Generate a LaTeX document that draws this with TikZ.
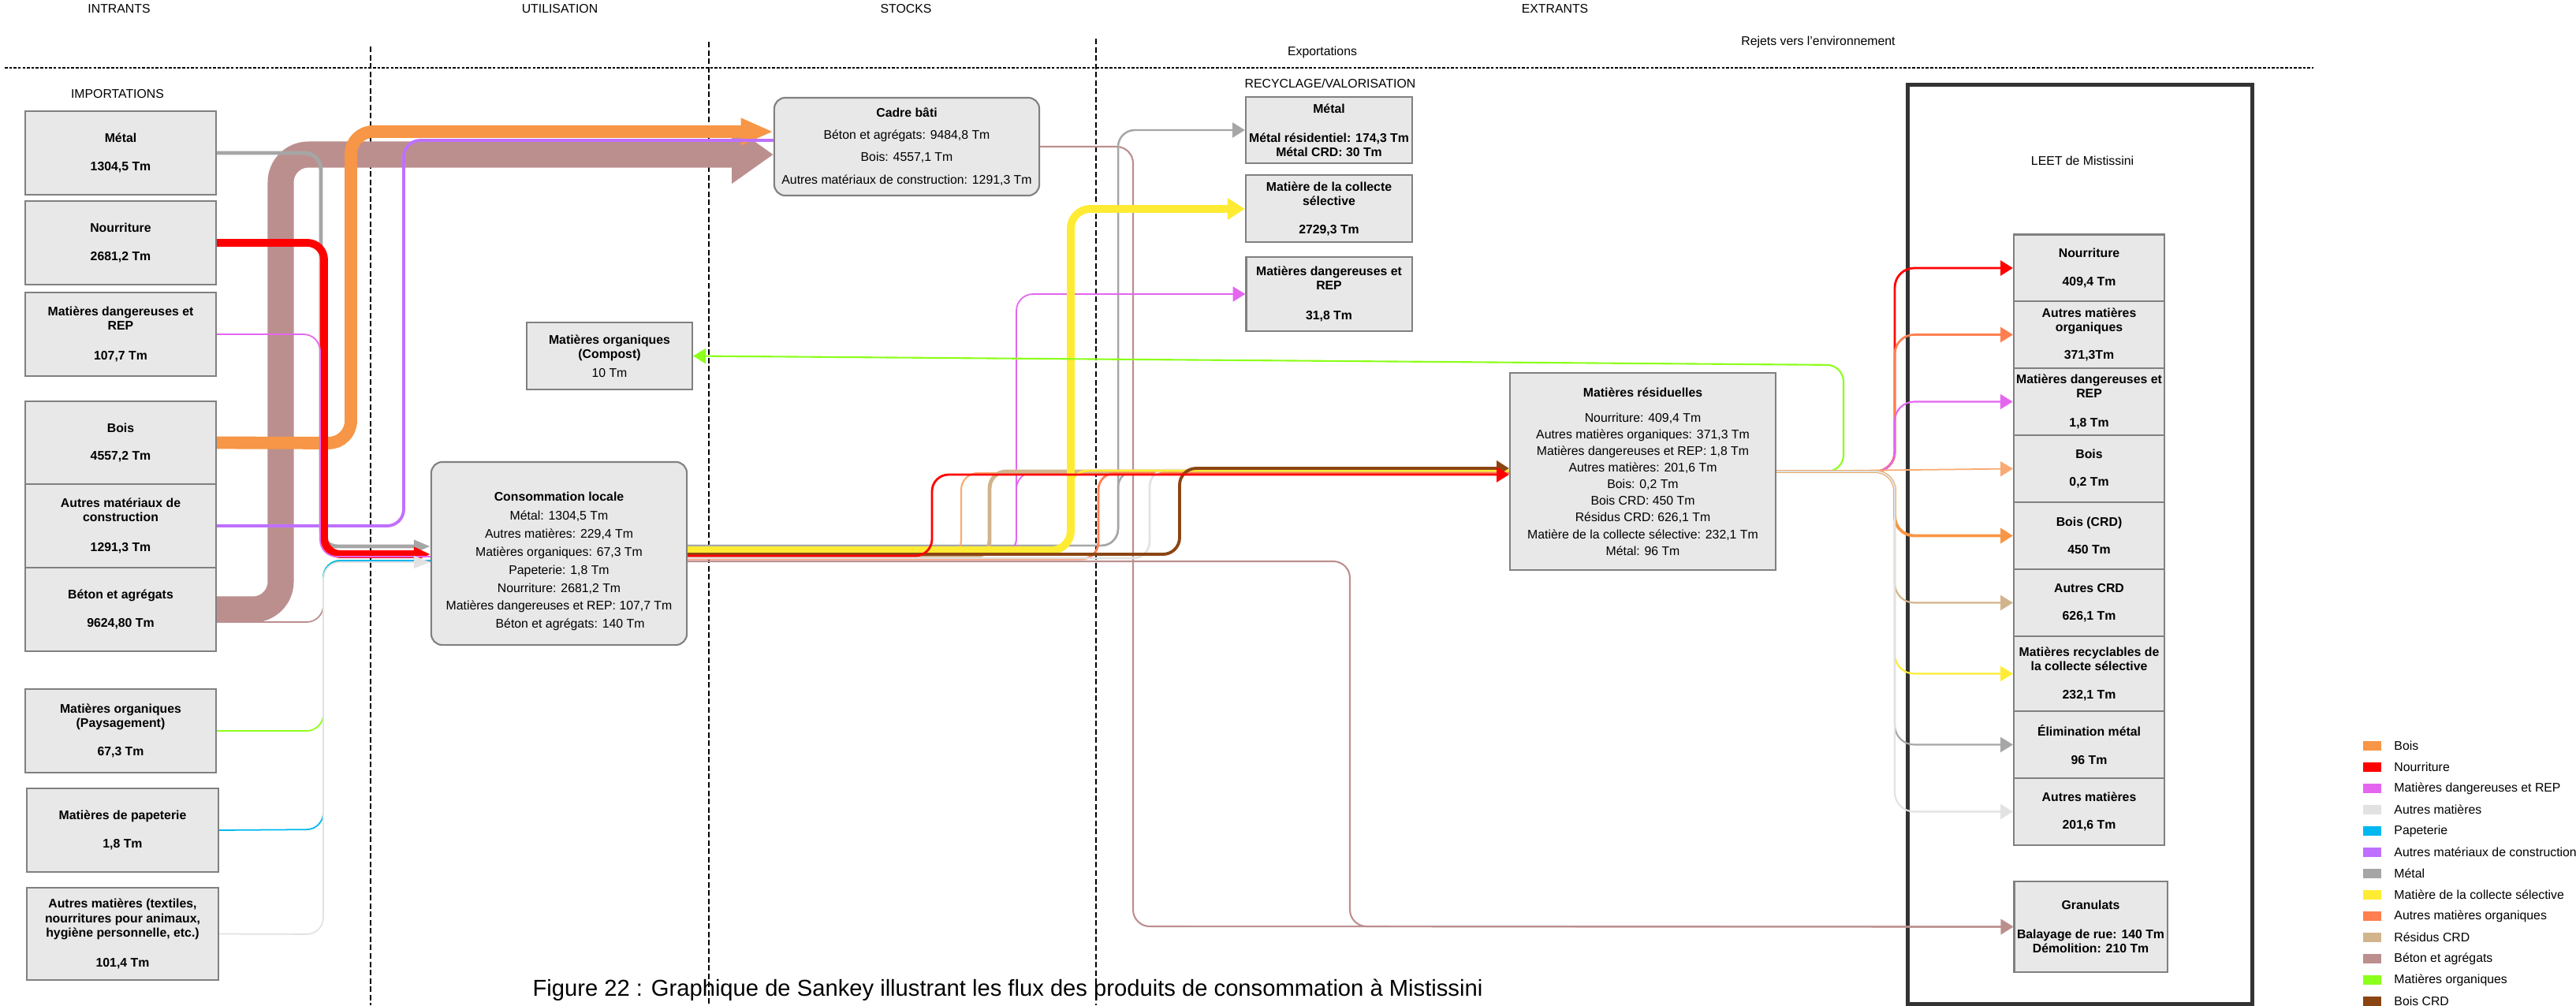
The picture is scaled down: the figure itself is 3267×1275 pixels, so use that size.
\documentclass[tikz,border=0pt]{standalone}
\usepackage{fontspec}
\setmainfont{Liberation Sans}
\usetikzlibrary{arrows.meta}

\definecolor{boxfill}{HTML}{E8E8E8}
\definecolor{boxline}{HTML}{808080}
\definecolor{leetline}{HTML}{333333}
\definecolor{cbois}{HTML}{F79646}
\definecolor{cboisl}{HTML}{F9AA72}
\definecolor{cnour}{HTML}{FF0000}
\definecolor{cmd}{HTML}{E466F0}
\definecolor{caut}{HTML}{E2E2E2}
\definecolor{cpap}{HTML}{00B8F0}
\definecolor{cconst}{HTML}{BF70FF}
\definecolor{cmet}{HTML}{A6A6A6}
\definecolor{ccol}{HTML}{FFEB33}
\definecolor{caom}{HTML}{FF7F50}
\definecolor{ccrd}{HTML}{D2B48C}
\definecolor{cbet}{HTML}{BC8F8F}
\definecolor{corg}{HTML}{8CFF1A}
\definecolor{cboiscrd}{HTML}{8B4513}

\newcommand{\smallfs}{\fontsize{4.5pt}{5.2pt}\selectfont}

\begin{document}
\begin{tikzpicture}[x = 0.01cm, y = -0.01cm, font = \smallfs,
  ibox/.style = {draw = boxline, fill = boxfill, line width = 0.6pt, align = center, inner sep = 1pt, font = \smallfs\bfseries},
  tbox/.style = {draw = boxline, fill = boxfill, line width = 0.6pt, align = center, inner sep = 1pt},
  rbox/.style = {tbox, rounded corners = 4pt},
  flow/.style = {line width = 0.6pt, rounded corners = 6pt},
  arrowed/.style = {-{Triangle[length = 4.5pt, width = 5.4pt]}}]
\useasboundingbox (0, 0) rectangle (3267, 1275);

\node (intrants) at (151, 11) {INTRANTS};
\node (utilisation) at (710, 11) {UTILISATION};
\node (stocks) at (1149, 11) {STOCKS};
\node (extrants) at (1972, 11) {EXTRANTS};
\node (exportations) at (1677, 66) {Exportations};
\node (rejets) at (2306, 53) {Rejets vers l'environnement};
\node (importations) at (149, 119) {IMPORTATIONS};
\node (recyclage) at (1687, 106) {RECYCLAGE/VALORISATION};

\draw[dash pattern = on 1pt off 0.6pt, line width = 0.5pt] (6, 86) -- (2934, 86);
\draw[dash pattern = on 2pt off 1pt, line width = 0.3pt] (470, 59) -- (470, 1275);
\draw[dash pattern = on 2pt off 1pt, line width = 0.3pt] (899, 53) -- (899, 1275);
\draw[dash pattern = on 2pt off 1pt, line width = 0.3pt] (1390, 49) -- (1390, 1275);

\node[ibox, minimum width = 2.42cm, minimum height = 1.06cm] (metal) at (153, 194) {Métal\\[4.9pt]1304,5 Tm};
\node[ibox, minimum width = 2.42cm, minimum height = 1.06cm] (nour) at (153, 308) {Nourriture\\[4.9pt]2681,2 Tm};
\node[ibox, minimum width = 2.42cm, minimum height = 1.06cm] (mdin) at (153, 424) {Matières dangereuses et\\REP\\[5.6pt]107,7 Tm};
\node[ibox, minimum width = 2.42cm, minimum height = 1.05cm] (bois) at (153, 561.5) {Bois\\[4.9pt]4557,2 Tm};
\node[ibox, minimum width = 2.42cm, minimum height = 1.06cm] (autmat) at (153, 667) {Autres matériaux de\\construction\\[5.6pt]1291,3 Tm};
\node[ibox, minimum width = 2.42cm, minimum height = 1.06cm] (beton) at (153, 773) {Béton et agrégats\\[4.9pt]9624,80 Tm};
\node[ibox, minimum width = 2.42cm, minimum height = 1.06cm] (orgin) at (153, 927) {Matières organiques\\(Paysagement)\\[4.9pt]67,3 Tm};
\node[ibox, minimum width = 2.43cm, minimum height = 1.06cm] (pap) at (155.5, 1053) {Matières de papeterie\\[4.9pt]1,8 Tm};
\node[ibox, minimum width = 2.43cm, minimum height = 1.17cm] (autres) at (155.5, 1184.5) {Autres matières (textiles,\\nourritures pour animaux,\\hygiène personnelle, etc.)\\[5.6pt]101,4 Tm};

\node[rbox, minimum width = 3.36cm, minimum height = 1.24cm] (cadre) at (1150, 186) {\textbf{Cadre bâti}\\[2.8pt]Béton et agrégats: 9484,8 Tm\\[2.8pt]Bois: 4557,1 Tm\\[2.8pt]Autres matériaux de construction: 1291,3 Tm};
\node[rbox, minimum width = 3.24cm, minimum height = 2.32cm] (conso) at (709, 702) {\rule{0pt}{9pt}\textbf{Consommation locale}\\[1.6pt]Métal: 1304,5 Tm\\[1.3pt]Autres matières: 229,4 Tm\\[1.3pt]Matières organiques: 67,3 Tm\\[1.3pt]Papeterie: 1,8 Tm\\[1.3pt]Nourriture: 2681,2 Tm\\[1.3pt]Matières dangereuses et REP: 107,7 Tm\\[1.3pt]\hspace*{8pt}Béton et agrégats: 140 Tm};
\node[tbox, minimum width = 2.10cm, minimum height = 0.85cm] (compost) at (773, 451.5) {\textbf{Matières organiques}\\\textbf{(Compost)}\\[1.6pt]10 Tm};

\node[ibox, minimum width = 2.11cm, minimum height = 0.84cm] (metalx) at (1685.5, 165) {Métal\\[5.3pt]Métal résidentiel: 174,3 Tm\\Métal CRD: 30 Tm};
\node[ibox, minimum width = 2.11cm, minimum height = 0.85cm] (collecte) at (1685.5, 264.5) {Matière de la collecte\\sélective\\[5pt]2729,3 Tm};
\node[ibox, minimum width = 2.10cm, minimum height = 0.94cm] (mdx) at (1685.5, 373) {Matières dangereuses et\\REP\\[5.6pt]31,8 Tm};

\node[tbox, minimum width = 3.37cm, minimum height = 2.50cm] (resid) at (2083.5, 598) {\textbf{Matières résiduelles}\\[3.9pt]Nourriture: 409,4 Tm\\[0.8pt]Autres matières organiques: 371,3 Tm\\[0.8pt]Matières dangereuses et REP: 1,8 Tm\\[0.8pt]Autres matières: 201,6 Tm\\[0.8pt]Bois: 0,2 Tm\\[0.8pt]Bois CRD: 450 Tm\\[0.8pt]Résidus CRD: 626,1 Tm\\[0.8pt]Matière de la collecte sélective: 232,1 Tm\\[0.8pt]Métal: 96 Tm};

\node[draw = leetline, line width = 1.4pt, minimum width = 4.36cm, minimum height = 11.65cm] (leet) at (2638, 690.5) {};
\node (leettitle) at (2641, 204) {LEET de Mistissini};
\node[ibox, minimum width = 1.91cm, minimum height = 0.85cm] (lnour) at (2649.5, 340) {Nourriture\\[4.9pt]409,4 Tm};
\node[ibox, minimum width = 1.91cm, minimum height = 0.85cm] (laom) at (2649.5, 424.5) {Autres matières\\organiques\\[4.9pt]371,3Tm};
\node[ibox, minimum width = 1.91cm, minimum height = 0.85cm] (lmd) at (2649.5, 509.5) {Matières dangereuses et\\REP\\[5.3pt]1,8 Tm};
\node[ibox, minimum width = 1.91cm, minimum height = 0.85cm] (lbois) at (2649.5, 594.5) {Bois\\[4.9pt]0,2 Tm};
\node[ibox, minimum width = 1.91cm, minimum height = 0.85cm] (lboiscrd) at (2649.5, 679.5) {Bois (CRD)\\[4.9pt]450 Tm};
\node[ibox, minimum width = 1.91cm, minimum height = 0.85cm] (lcrd) at (2649.5, 764.5) {Autres CRD\\[4.9pt]626,1 Tm};
\node[ibox, minimum width = 1.91cm, minimum height = 0.95cm] (lrec) at (2649.5, 854.5) {Matières recyclables de\\la collecte sélective\\[4.9pt]232,1 Tm};
\node[ibox, minimum width = 1.91cm, minimum height = 0.85cm] (lmet) at (2649.5, 944.5) {Élimination métal\\[4.9pt]96 Tm};
\node[ibox, minimum width = 1.91cm, minimum height = 0.85cm] (laut) at (2649.5, 1029.5) {Autres matières\\[4.9pt]201,6 Tm};
\node[ibox, minimum width = 1.91cm, minimum height = 1.15cm] (gran) at (2651.5, 1175.5) {Granulats\\[5.3pt]Balayage de rue: 140 Tm\\Démolition: 210 Tm};

\draw[flow, cbet, line width = 9.4pt, rounded corners = 10pt, -{Triangle[length = 15pt, width = 20pt]}] (beton.east) -- (356, 773) -- (356, 196) -- (cadre.west |- 0, 196);
\draw[flow, cbet, line width = 0.5pt] (beton.east |- 0, 789) -- (410, 789) -- (410, 712) -- (conso.west |- 0, 712);
\draw[flow, cbois, line width = 4.5pt, rounded corners = 8pt, -{Triangle[length = 11.7pt, width = 9pt]}] (bois.east) -- (445, 562) -- (445, 167) -- (cadre.west |- 0, 167);
\draw[flow, cconst, line width = 1.1pt] (autmat.east) -- (512, 667) -- (512, 178) -- (cadre.west |- 0, 178);
\draw[flow, cmet, line width = 1.4pt, -{Triangle[length = 6pt, width = 4.5pt]}] (metal.east) -- (407, 194) -- (407, 693) -- (conso.west |- 0, 693);
\draw[flow, cnour, line width = 2.8pt, -{Triangle[length = 6pt, width = 5pt]}] (nour.east) -- (411, 308) -- (411, 703) -- (conso.west |- 0, 703);
\draw[flow, cmd, line width = 0.5pt] (mdin.east) -- (406, 424) -- (406, 706) -- (conso.west |- 0, 706);
\draw[flow, corg, line width = 0.5pt] (orgin.east) -- (410, 927) -- (410, 711) -- (conso.west |- 0, 711);
\draw[flow, cpap, line width = 0.5pt] (pap.east) -- (410, 1052) -- (410, 711) -- (conso.west |- 0, 711);
\draw[flow, caut, line width = 0.5pt, -{Triangle[length = 6pt, width = 4.5pt]}] (autres.east) -- (410, 1185) -- (410, 713) -- (conso.west |- 0, 713);

\draw[flow, cbet, line width = 0.6pt, arrowed] (conso.east |- 0, 712) -- (1712, 712) -- (1712, 1175) -- (gran.west);
\draw[flow, cbet, line width = 0.6pt, arrowed] (cadre.east) -- (1437, 186) -- (1437, 1175) -- (gran.west);
\draw[flow, cmet, line width = 0.7pt, arrowed] (conso.east |- 0, 692) -- (1418, 692) -- (1418, 165) -- (metalx.west);
\draw[flow, cmet, line width = 0.7pt] (conso.east |- 0, 692) -- (1418, 692) -- (1418, 597) -- (resid.west |- 0, 597);
\draw[flow, cmd, line width = 0.5pt, arrowed] (conso.east |- 0, 704) -- (1289, 704) -- (1289, 373) -- (mdx.west);
\draw[flow, cmd, line width = 0.5pt] (conso.east |- 0, 704) -- (1289, 704) -- (1289, 599) -- (resid.west |- 0, 599);
\draw[flow, cboisl, line width = 0.6pt] (conso.east |- 0, 706) -- (1219, 706) -- (1219, 600) -- (resid.west |- 0, 600);
\draw[flow, ccrd, line width = 1.4pt] (conso.east |- 0, 707) -- (1255, 707) -- (1255, 598) -- (resid.west |- 0, 598);
\draw[flow, caom, line width = 0.8pt] (conso.east |- 0, 709) -- (1393, 709) -- (1393, 600) -- (resid.west |- 0, 600);
\draw[flow, caut, line width = 0.8pt] (conso.east |- 0, 708) -- (1458, 708) -- (1458, 596) -- (resid.west |- 0, 596);
\draw[flow, ccol, line width = 0.8pt] (conso.east |- 0, 698) -- (1358, 698) -- (1358, 597) -- (resid.west |- 0, 597);
\draw[flow, ccol, line width = 2.8pt, rounded corners = 7pt, -{Triangle[length = 6.3pt, width = 7.5pt]}] (conso.east |- 0, 698) -- (1358, 698) -- (1358, 265) -- (collecte.west |- 0, 265);
\draw[flow, cboiscrd, line width = 1.1pt, arrowed] (conso.east |- 0, 703) -- (1496, 703) -- (1496, 594) -- (resid.west |- 0, 594);
\draw[flow, cnour, line width = 0.8pt, arrowed] (conso.east |- 0, 705) -- (1182, 705) -- (1182, 602) -- (resid.west |- 0, 602);

\draw[flow, corg, line width = 0.6pt, arrowed] (resid.east) -- (2338, 598) -- (2338, 463) -- (compost.east);
\draw[flow, cnour, line width = 0.8pt, rounded corners = 7pt, arrowed] (resid.east) -- (2403, 598) -- (2403, 340) -- (lnour.west);
\draw[flow, caom, line width = 0.8pt, rounded corners = 7pt, arrowed] (resid.east) -- (2403, 598) -- (2403, 424.5) -- (laom.west);
\draw[flow, cmd, line width = 0.6pt, rounded corners = 7pt, arrowed] (resid.east) -- (2403, 598) -- (2403, 509.5) -- (lmd.west);
\draw[flow, cboisl, line width = 0.5pt, arrowed] (resid.east) -- (lbois.west);
\draw[flow, cbois, line width = 1.1pt, rounded corners = 7pt, arrowed] (resid.east) -- (2403, 598) -- (2403, 679.5) -- (lboiscrd.west);
\draw[flow, ccrd, line width = 0.6pt, rounded corners = 7pt, arrowed] (resid.east) -- (2403, 598) -- (2403, 764.5) -- (lcrd.west);
\draw[flow, ccol, line width = 0.6pt, rounded corners = 7pt, arrowed] (resid.east) -- (2403, 598) -- (2403, 854.5) -- (lrec.west);
\draw[flow, cmet, line width = 0.6pt, rounded corners = 7pt, arrowed] (resid.east) -- (2403, 598) -- (2403, 944.5) -- (lmet.west);
\draw[flow, caut, line width = 0.6pt, rounded corners = 7pt, arrowed] (resid.east) -- (2403, 598) -- (2403, 1029.5) -- (laut.west);

\foreach \c/\t [count = \i from 0] in {cbois/Bois, cnour/Nourriture, cmd/Matières dangereuses et REP, caut/Autres matières, cpap/Papeterie, cconst/Autres matériaux de construction, cmet/Métal, ccol/Matière de la collecte sélective, caom/Autres matières organiques, ccrd/Résidus CRD, cbet/Béton et agrégats, corg/Matières organiques, cboiscrd/Bois CRD}
{
  \fill[\c] (2997, {940 + 27*\i}) rectangle ++(23, 12);
  \node[anchor = west] (leg\i) at (3024, {946 + 27*\i}) {\t};
}

\node[anchor = base, font = \fontsize{8.3pt}{9pt}\selectfont] (caption) at (1278, 1263) {Figure 22 : Graphique de Sankey illustrant les flux des produits de consommation à Mistissini};
\end{tikzpicture}
\end{document}
